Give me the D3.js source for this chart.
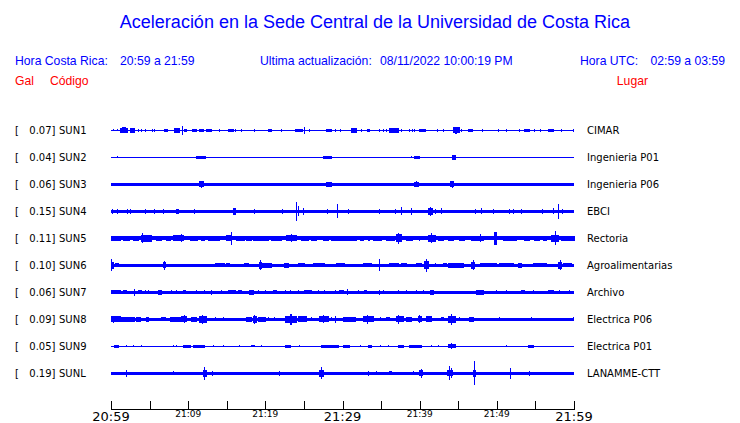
<!DOCTYPE html>
<html><head><meta charset="utf-8">
<script src="https://d3js.org/d3.v7.min.js"></script>
<style>body{margin:0;background:#fff}svg{display:block}</style>
</head><body><svg id="c" width="740" height="423"></svg>
<script>
// ---- data ----
const title = "Aceleración en la Sede Central de la Universidad de Costa Rica";
const tickMinutes = d3.range(0, 61, 5);
const tickLabels = {0:"20:59",10:"21:09",20:"21:19",30:"21:29",40:"21:39",50:"21:49",60:"21:59"};
const majorTicks = [0, 30, 60];
const codes = ["SUN1","SUN2","SUN3","SUN4","SUN5","SUN6","SUN7","SUN8","SUN9","SUNL"];
const places = ["CIMAR","Ingenieria P01","Ingenieria P06","EBCI","Rectoria","Agroalimentarias","Archivo","Electrica P06","Electrica P01","LANAMME-CTT"];
const peaks = [0.07,0.04,0.06,0.15,0.11,0.10,0.06,0.09,0.05,0.19];
const noise = [0.008,0.005,0.027,0.027,0.033,0.025,0.022,0.027,0.006,0.027];
// bursts: [start minute, end minute, amplitude (Gal)]
const SUN1 = [[0.3,0.3,0.016],[0.87,0.87,0.016],[1.17,2.16,0.04],[1.5,1.9,0.048],[2.59,3.11,0.035],[3.54,3.54,0.024],[3.89,3.89,0.024],[4.41,4.41,0.024],[5.35,5.35,0.024],[5.7,5.7,0.024],[6.87,7.35,0.02],[8.2,8.94,0.035],[9.24,9.24,0.07],[9.5,9.81,0.024],[10.54,11.11,0.02],[11.53,11.96,0.024],[12.4,12.96,0.02],[14.12,14.12,0.024],[15.2,15.85,0.02],[16.16,16.16,0.024],[16.94,16.94,0.024],[18.57,18.57,0.024],[20.38,20.82,0.02],[22.12,22.12,0.024],[23.97,24.79,0.02],[25.05,25.05,0.055],[25.66,25.66,0.024],[27.95,28.6,0.02],[29.12,29.12,0.024],[29.8,29.8,0.024],[31.19,31.84,0.035],[32.49,32.49,0.024],[33.21,33.56,0.02],[34.77,34.77,0.024],[35.29,35.29,0.024],[35.73,35.73,0.024],[36.15,37.23,0.035],[37.67,37.67,0.024],[38.65,38.65,0.024],[39.1,39.1,0.024],[39.39,39.39,0.024],[40.04,40.82,0.02],[42.28,42.28,0.024],[43.06,43.06,0.024],[44.36,45.13,0.045],[44.7,44.8,0.055],[45.45,45.45,0.024],[46.3,46.87,0.02],[48.17,48.17,0.024],[50.19,50.19,0.024],[51.28,51.28,0.024],[53.0,53.0,0.024],[53.65,54.2,0.02],[54.94,54.94,0.024],[55.68,55.68,0.024],[56.67,57.32,0.028],[58.4,58.4,0.024],[59.91,59.91,0.024]];
const SUN2 = [[0.8,0.8,0.016],[11.1,12.2,0.02],[11.5,11.8,0.028],[27.5,28.6,0.02],[38.9,38.9,0.016],[39.3,40.0,0.02],[44.2,44.6,0.04]];
const SUN3 = [[11.53,11.96,0.05],[11.7,11.7,0.058],[27.95,28.6,0.036],[39.39,39.8,0.036],[39.6,39.6,0.045],[44.0,44.36,0.05],[44.2,44.2,0.06]];
const SUN4 = [[0.17,0.17,0.035],[0.87,0.87,0.035],[2.16,2.16,0.035],[2.59,2.59,0.035],[4.41,4.41,0.035],[5.61,5.61,0.036],[6.83,6.83,0.035],[8.51,8.72,0.036],[10.88,10.88,0.035],[15.85,16.07,0.052],[18.66,18.66,0.035],[22.25,22.25,0.036],[24.06,24.06,0.15],[24.27,24.27,0.08],[24.92,24.92,0.052],[28.08,28.08,0.036],[29.33,29.33,0.11],[30.75,30.75,0.035],[34.77,34.77,0.035],[36.93,36.93,0.035],[37.67,37.67,0.063],[38.97,38.97,0.055],[41.12,41.69,0.055],[41.4,41.4,0.071],[42.11,42.11,0.035],[42.85,42.85,0.048],[47.3,47.3,0.035],[48.04,48.04,0.048],[49.63,49.63,0.04],[51.7,51.7,0.035],[52.22,52.22,0.035],[53.22,53.22,0.035],[55.94,55.94,0.035],[57.32,57.32,0.048],[57.96,57.96,0.12],[58.53,58.53,0.035]];
const SUN5 = [[0,1.17,0.042],[1.6,2.46,0.042],[2.89,3.54,0.042],[3.89,4.41,0.06],[4.1,4.1,0.08],[4.63,5.27,0.052],[5.92,6.57,0.042],[7.22,7.65,0.042],[8.07,9.37,0.05],[9.2,9.2,0.063],[10.24,11.23,0.042],[11.75,12.18,0.042],[12.61,14.12,0.042],[14.99,15.64,0.05],[15.59,15.59,0.1],[16.29,17.36,0.04],[17.58,18.23,0.042],[18.44,20.38,0.042],[20.82,22.12,0.042],[22.77,24.06,0.05],[23.4,23.4,0.063],[24.71,25.57,0.042],[26.01,26.66,0.042],[27.51,28.16,0.042],[28.6,30.32,0.042],[29.67,31.84,0.042],[32.27,32.69,0.042],[33.34,33.56,0.042],[33.99,35.08,0.042],[35.73,36.8,0.042],[37.02,37.67,0.065],[37.3,37.3,0.087],[38.32,39.1,0.042],[40.04,40.04,0.04],[41.12,41.99,0.06],[41.5,41.5,0.08],[42.41,43.06,0.042],[43.71,44.36,0.042],[45.22,45.87,0.042],[46.74,48.24,0.042],[47.82,47.82,0.063],[49.76,49.98,0.1],[50.84,52.57,0.042],[53.65,54.29,0.042],[54.94,55.59,0.042],[56.02,56.46,0.042],[57.11,57.96,0.055],[57.66,57.66,0.11],[58.4,60,0.042]];
const SUN6 = [[0,0.3,0.06],[0.1,0.1,0.095],[0.52,0.95,0.032],[6.78,7.09,0.05],[6.9,6.9,0.071],[13.48,14.77,0.03],[14.99,15.42,0.03],[17.27,17.79,0.03],[19.18,19.53,0.055],[19.35,19.35,0.08],[19.53,20.82,0.036],[22.42,22.98,0.036],[24.27,25.14,0.03],[26.21,26.86,0.03],[27.08,27.73,0.03],[29.25,30.32,0.03],[32.69,33.78,0.03],[34.77,34.77,0.095],[36.15,37.23,0.03],[37.67,38.32,0.034],[39.61,40.26,0.03],[40.69,41.12,0.065],[40.9,40.9,0.1],[41.99,41.99,0.032],[43.06,43.5,0.03],[43.71,44.36,0.042],[44.36,45.65,0.036],[46.74,47.17,0.06],[46.95,46.95,0.08],[47.82,49.98,0.03],[50.41,52.13,0.03],[52.78,53.22,0.036],[54.72,56.46,0.03],[57.96,58.4,0.06],[58.2,58.2,0.08],[58.61,59.7,0.03]];
const SUN7 = [[0,1.17,0.03],[1.6,2.03,0.03],[3.02,3.02,0.06],[3.54,3.97,0.03],[4.41,4.41,0.032],[4.84,4.84,0.032],[6.13,6.48,0.038],[7.86,7.86,0.032],[8.51,8.51,0.032],[9.37,9.59,0.032],[11.1,11.1,0.032],[12.18,12.18,0.032],[13.04,13.04,0.04],[14.34,14.34,0.032],[15.2,16.07,0.03],[16.5,16.93,0.03],[18.01,18.44,0.038],[19.09,19.09,0.032],[19.96,19.96,0.032],[21.04,21.47,0.03],[22.55,22.55,0.032],[23.2,23.2,0.032],[24.27,24.27,0.032],[25.14,26.0,0.03],[26.86,26.86,0.032],[27.73,27.73,0.032],[29.03,29.03,0.032],[29.67,30.1,0.03],[30.62,30.62,0.048],[32.05,32.05,0.032],[32.91,33.13,0.03],[34.77,34.77,0.04],[35.29,35.29,0.032],[37.23,37.23,0.032],[38.32,38.32,0.032],[39.61,39.61,0.032],[40.48,40.48,0.032],[41.34,41.77,0.038],[47.39,48.25,0.036],[49.98,49.98,0.032],[51.28,51.28,0.032],[53.22,53.65,0.03],[54.73,54.73,0.032],[56.67,57.32,0.03],[58.18,58.18,0.032],[59.48,59.48,0.032]];
const SUN8 = [[0,1.17,0.045],[0.3,0.3,0.055],[1.38,3.11,0.036],[3.33,3.76,0.036],[4.62,4.84,0.036],[6.56,7.0,0.032],[7.65,9.37,0.04],[9.16,9.8,0.05],[9.5,9.5,0.063],[10.45,11.1,0.036],[11.53,12.4,0.055],[11.9,11.9,0.071],[13.48,13.48,0.032],[14.56,14.56,0.032],[17.58,18.23,0.036],[18.44,18.88,0.055],[18.65,18.65,0.071],[19.09,19.96,0.036],[20.39,20.39,0.032],[21.25,21.25,0.032],[22.55,24.06,0.055],[23.2,23.4,0.085],[24.27,25.36,0.045],[26.0,26.0,0.032],[27.08,28.16,0.048],[27.6,27.6,0.063],[28.6,28.6,0.032],[29.03,29.03,0.055],[30.1,31.62,0.036],[32.7,34.0,0.05],[33.2,33.2,0.071],[34.86,34.86,0.032],[35.72,36.15,0.032],[36.96,37.88,0.05],[37.3,37.3,0.071],[38.32,38.96,0.042],[39.82,40.26,0.05],[40.0,40.0,0.063],[40.9,41.55,0.045],[42.85,43.06,0.032],[43.72,44.58,0.06],[44.1,44.1,0.09],[45.22,45.22,0.032],[46.52,46.95,0.042],[50.32,50.32,0.032],[54.51,54.51,0.032],[59.91,59.91,0.032]];
const SUN9 = [[0.43,0.95,0.02],[2.03,2.03,0.016],[2.89,2.89,0.016],[3.89,3.89,0.016],[8.08,8.08,0.016],[8.51,8.51,0.016],[9.37,10.24,0.02],[10.67,12.18,0.02],[13.26,13.26,0.016],[14.56,14.56,0.016],[16.59,16.59,0.016],[18.23,18.66,0.016],[19.53,19.53,0.016],[22.55,23.2,0.02],[24.49,24.49,0.016],[27.3,29.46,0.02],[30.1,30.88,0.02],[32.27,32.27,0.016],[33.35,33.78,0.02],[34.86,34.86,0.016],[35.94,35.94,0.016],[37.23,37.88,0.02],[38.74,40.26,0.02],[41.55,41.55,0.016],[42.42,42.42,0.016],[43.72,44.58,0.032],[44.1,44.1,0.05],[51.28,51.28,0.016],[54.08,54.73,0.02]];
const SUNL = [[2.0,2.0,0.055],[8.08,8.08,0.032],[11.96,12.4,0.06],[12.18,12.18,0.1],[13.13,13.13,0.04],[21.9,21.9,0.04],[27.08,27.51,0.06],[27.3,27.3,0.095],[33.35,33.35,0.04],[34.43,34.43,0.032],[36.15,36.37,0.032],[39.18,39.18,0.032],[39.96,40.39,0.05],[40.2,40.2,0.071],[43.59,44.28,0.05],[43.85,43.85,0.111],[44.1,44.1,0.08],[46.96,47.3,0.06],[47.13,47.13,0.19],[51.71,51.71,0.085],[54.22,54.22,0.04],[56.67,56.67,0.024],[57.97,57.97,0.024]];
const bursts = [SUN1,SUN2,SUN3,SUN4,SUN5,SUN6,SUN7,SUN8,SUN9,SUNL];

// ---- drawing ----
const svg = d3.select("#c");
const blue = "#0000ff", red = "#ff0000";
const x = d3.scaleLinear().domain([0, 60]).range([111, 574]);
const y = d3.scalePoint().domain(codes).range([130.3, 373.3]);
const amp = d3.scaleLinear().domain([0, 0.19]).range([0, 12]);

svg.append("text").attr("x", 375).attr("y", 28).attr("text-anchor", "middle")
  .attr("font-family", "Liberation Sans, Arial, sans-serif").attr("font-size", 18)
  .attr("fill", blue).text(title);

const hdr = svg.append("g").attr("font-family", "Liberation Sans, Arial, sans-serif").attr("font-size", 12.2);
const hdrItems = [
  [15, 65, "Hora Costa Rica:", blue, "start"],
  [120, 65, "20:59 a 21:59", blue, "start"],
  [260, 65, "Ultima actualización:", blue, "start"],
  [380, 65, "08/11/2022 10:00:19 PM", blue, "start"],
  [580, 65, "Hora UTC:", blue, "start"],
  [725, 65, "02:59 a 03:59", blue, "end"],
  [15, 85, "Gal", red, "start"],
  [50, 85, "Código", red, "start"],
  [648, 85, "Lugar", red, "end"]
];
hdr.selectAll("text").data(hdrItems).join("text")
  .attr("x", d => d[0]).attr("y", d => d[1]).attr("fill", d => d[3])
  .attr("text-anchor", d => d[4]).text(d => d[2]);

const rows = svg.append("g").attr("shape-rendering", "crispEdges");
codes.forEach((code, i) => {
  const cy = y(code);
  const g = rows.append("g");
  const h0 = Math.max(0.5, amp(noise[i]));
  g.append("rect").attr("x", x(0)).attr("width", x(60) - x(0))
    .attr("y", cy - h0).attr("height", 2 * h0).attr("fill", blue);
  g.selectAll("rect.b").data(bursts[i]).join("rect").attr("class", "b")
    .attr("x", d => x(d[0]) - 0.5)
    .attr("width", d => Math.max(1, x(d[1]) - x(d[0]) + 1))
    .attr("y", d => cy - Math.max(0.5, amp(d[2])))
    .attr("height", d => 2 * Math.max(0.5, amp(d[2])))
    .attr("fill", blue);
});

const lab = svg.append("g").attr("font-family", "DejaVu Sans, sans-serif").attr("font-size", 10).attr("fill", "#000");
codes.forEach((code, i) => {
  const ty = y(code) + 3.6;
  lab.append("text").attr("x", 15).attr("y", ty).text("[");
  lab.append("text").attr("x", 55.5).attr("y", ty).attr("text-anchor", "end").text(peaks[i].toFixed(2) + "]");
  lab.append("text").attr("x", 59).attr("y", ty).text(code);
  lab.append("text").attr("x", 587).attr("y", ty).text(places[i]);
});

// time axis
const axisY = 409.5;
const ax = svg.append("g").attr("stroke", "#000").attr("shape-rendering", "crispEdges");
ax.append("line").attr("x1", x(0)).attr("x2", x(60)).attr("y1", axisY).attr("y2", axisY);
ax.selectAll("line.t").data(tickMinutes).join("line").attr("class", "t")
  .attr("x1", d => Math.round(x(d)) + 0.5).attr("x2", d => Math.round(x(d)) + 0.5)
  .attr("y1", axisY).attr("y2", axisY - 9);
svg.append("g").attr("font-family", "DejaVu Sans, sans-serif").attr("fill", "#000")
  .selectAll("text").data(tickMinutes.filter(m => tickLabels[m])).join("text")
  .attr("x", d => x(d)).attr("text-anchor", "middle")
  .attr("y", d => majorTicks.includes(d) ? 420.5 : 417)
  .attr("font-size", d => majorTicks.includes(d) ? 13 : 9)
  .text(d => tickLabels[d]);
</script></body></html>
